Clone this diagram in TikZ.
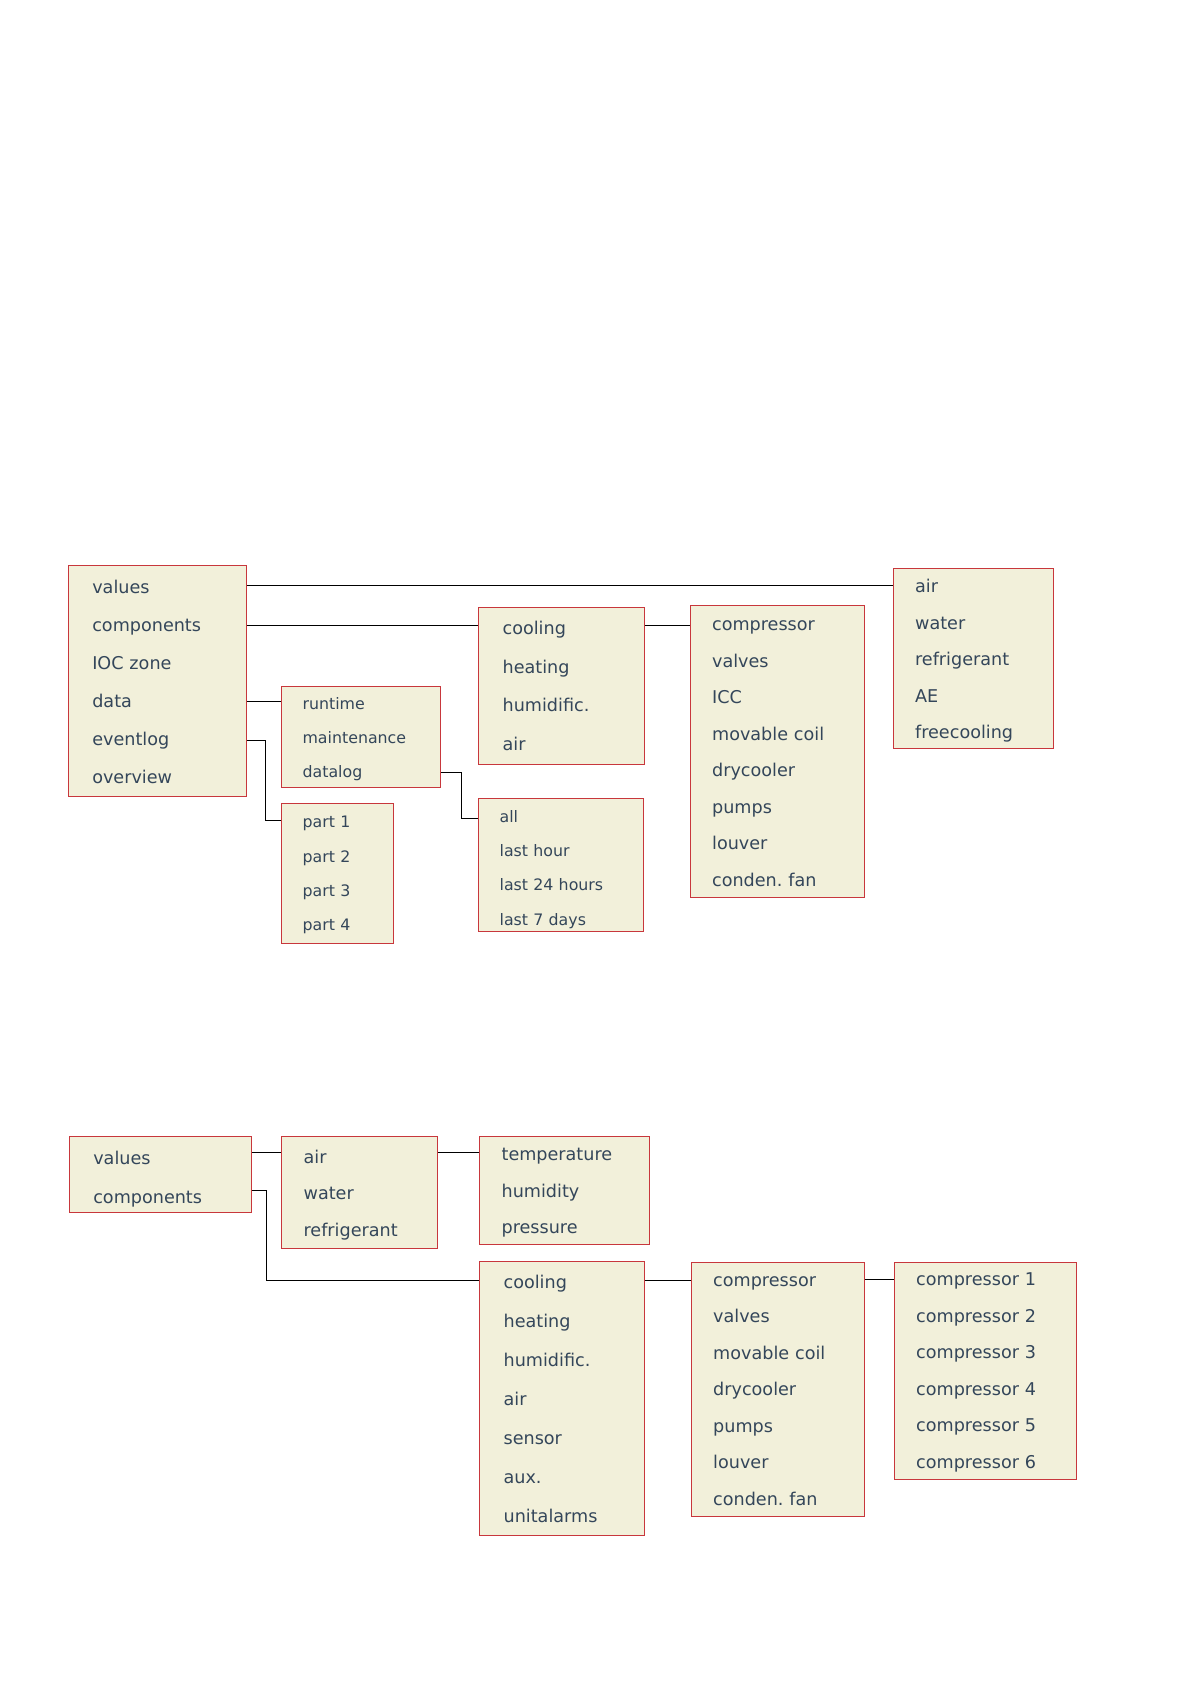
\documentclass[tikz,border=0pt]{standalone}
\usepackage{fontspec}
\setmainfont{DejaVu Sans}
\definecolor{menufill}{HTML}{F2F0DA}
\definecolor{menuframe}{HTML}{C8373C}
\definecolor{menutext}{HTML}{34465A}

\begin{document}
\frenchspacing
\begin{tikzpicture}[
  x=0.5pt, y=-0.5pt,
  menu/.style={draw=menuframe, line width=0.6pt, fill=menufill, text=menutext, anchor=north west, align=left, inner xsep=11pt, inner ysep=0pt, font=\fontsize{8.8}{18.25}\selectfont},
  menuwide/.style={menu, inner xsep=12pt, font=\fontsize{8.8}{19.25}\selectfont},
  menusmall/.style={menu, inner xsep=10.5pt, font=\fontsize{7.9}{17.2}\selectfont},
  link/.style={draw=black, line width=0.5pt}
]
  \useasboundingbox (0,0) rectangle (1191,1684);

  % upper menu tree
  \node[menuwide, font=\fontsize{8.8}{19}\selectfont, text width=65pt, text height=7.8pt, minimum height=115.5pt] (main) at (67.7,565) {values\\components\\IOC zone\\data\\eventlog\\overview};
  \node[menu, text width=58pt, text height=8.8pt, minimum height=90pt] (values) at (892.5,568) {air\\water\\refrigerant\\AE\\freecooling};
  \node[menuwide, text width=59pt, text height=6.7pt, minimum height=78.5pt] (comps) at (478,607) {cooling\\heating\\humidific.\\air};
  \node[menu, text width=65pt, text height=7pt, minimum height=146pt] (cooling) at (689.5,605) {compressor\\valves\\ICC\\movable coil\\drycooler\\pumps\\louver\\conden. fan};
  \node[menusmall, text width=58.5pt, text height=8.1pt, minimum height=50.5pt] (data) at (281,686) {runtime\\maintenance\\datalog};
  \node[menusmall, text width=35pt, text height=7.4pt, minimum height=70pt] (eventlog) at (281,803) {part 1\\part 2\\part 3\\part 4};
  \node[menusmall, text width=61.5pt, text height=10.2pt, minimum height=66.5pt] (datalog) at (478,798) {all\\last hour\\last 24 hours\\last 7 days};

  \draw[link] ([yshift=-10pt]main.north east) -- ([yshift=-8.5pt]values.north west);
  \draw[link] ([yshift=-30pt]main.north east) -- ([yshift=-9pt]comps.north west);
  \draw[link] ([yshift=-9pt]comps.north east) -- ([yshift=-10pt]cooling.north west);
  \draw[link] ([yshift=-68.25pt]main.north east) -- ([yshift=-7.75pt]data.north west);
  \draw[link] ([yshift=-87.5pt]main.north east) -- ++(9.5pt,0) |- ([yshift=-8.75pt]eventlog.north west);
  \draw[link] ([yshift=-43pt]data.north east) -- ++(10pt,0) |- ([yshift=-10pt]datalog.north west);

  % lower menu tree
  \node[menuwide, text width=67pt, text height=11.3pt, minimum height=38pt] (main2) at (68.7,1136) {values\\components};
  \node[menu, text width=56pt, text height=8.8pt, minimum height=56pt] (values2) at (281,1136) {air\\water\\refrigerant};
  \node[menu, text width=63pt, text height=8.4pt, minimum height=54pt] (air2) at (479,1136) {temperature\\humidity\\pressure};
  \node[menuwide, font=\fontsize{8.8}{19.5}\selectfont, text width=58.5pt, text height=6.7pt, minimum height=137pt] (comps2) at (479,1261) {cooling\\heating\\humidific.\\air\\sensor\\aux.\\unitalarms};
  \node[menu, text width=64.5pt, text height=6.4pt, minimum height=127pt] (cooling2) at (690.6,1262) {compressor\\valves\\movable coil\\drycooler\\pumps\\louver\\conden. fan};
  \node[menu, text width=69pt, text height=7.5pt, minimum height=108.5pt] (compressor2) at (893.6,1262) {compressor 1\\compressor 2\\compressor 3\\compressor 4\\compressor 5\\compressor 6};

  \draw[link] ([yshift=-8pt]main2.north east) -- ([yshift=-8pt]values2.north west);
  \draw[link] ([yshift=-8pt]values2.north east) -- ([yshift=-8pt]air2.north west);
  \draw[link] ([yshift=-27.35pt]main2.north east) -- ++(7.5pt,0) |- ([yshift=-9.5pt]comps2.north west);
  \draw[link] ([yshift=-9.5pt]comps2.north east) -- ([yshift=-9pt]cooling2.north west);
  \draw[link] ([yshift=-8.5pt]cooling2.north east) -- ([yshift=-8.5pt]compressor2.north west);

\end{tikzpicture}
\end{document}
